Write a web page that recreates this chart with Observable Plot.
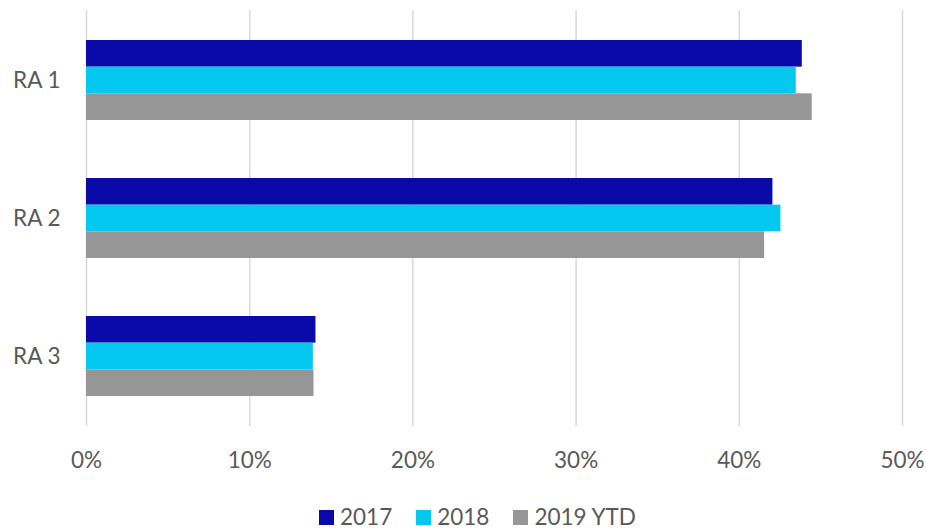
<!DOCTYPE html>
<html>
<head>
<meta charset="utf-8">
<script src="https://cdn.jsdelivr.net/npm/d3@7"></script>
<script src="https://cdn.jsdelivr.net/npm/@observablehq/plot@0.6"></script>
<style>
  html, body { margin: 0; padding: 0; background: #fff; }
  #wrap { position: relative; width: 926px; height: 531px; font-family: Lato, "Open Sans", sans-serif; color: #595959; }
  #legend { position: absolute; left: 319px; top: 503px; display: flex; align-items: center; font-size: 22.5px; line-height: 28px; }
  .item { display: flex; align-items: center; margin-right: 24px; }
  .sw { width: 15px; height: 15px; margin-right: 6px; }
</style>
</head>
<body>
<div id="wrap"><div id="chart"></div><div id="legend"></div></div>
<script>
const categories = ["RA 1", "RA 2", "RA 3"];
const series = ["2017", "2018", "2019 YTD"];
const values2017 = [0.4386, 0.4206, 0.1406];
const values2018 = [0.4349, 0.4255, 0.1390];
const values2019 = [0.4447, 0.4155, 0.1394];
const xTicks = [0, 0.1, 0.2, 0.3, 0.4, 0.5];
const colors = ["#0a0aa8", "#05c8f0", "#969696"];

const seriesValues = [values2017, values2018, values2019];

const W = 926, H = 490, mTop = 10, mBottom = 64, mLeft = 86, mRight = 24;
const pInner = 0.423, pOuter = 0.2115;
const step = (H - mTop - mBottom) / (categories.length - pInner + 2 * pOuter);
const band = step * (1 - pInner);
const bh = band / series.length;

const barMarks = series.map((s, i) =>
  Plot.barX(categories, {
    y: d => d,
    x1: 0,
    x2: (d, j) => seriesValues[i][j],
    fill: colors[i],
    insetTop: i * bh,
    insetBottom: (series.length - 1 - i) * bh
  })
);

const chart = Plot.plot({
  width: W,
  height: H,
  marginTop: mTop,
  marginBottom: mBottom,
  marginLeft: mLeft,
  marginRight: mRight,
  style: { fontFamily: "Lato, 'Open Sans', sans-serif", fontSize: "22.5px", color: "#595959", background: "#fff" },
  x: { domain: [0, 0.5] },
  y: { domain: categories, paddingInner: pInner, paddingOuter: pOuter, align: 0.5 },
  marks: [
    Plot.ruleX(xTicks, { stroke: "#d9d9d9", strokeWidth: 1.5 }),
    ...barMarks,
    Plot.axisX({ ticks: xTicks, tickSize: 0, tickPadding: 26, tickFormat: d3.format(".0%"), label: null }),
    Plot.axisY({ tickSize: 0, tickPadding: 26, label: null })
  ]
});
document.getElementById("chart").appendChild(chart);

const legend = document.getElementById("legend");
series.forEach((s, i) => {
  const it = document.createElement("div");
  it.className = "item";
  const sw = document.createElement("div");
  sw.className = "sw";
  sw.style.background = colors[i];
  const t = document.createElement("span");
  t.textContent = s;
  it.appendChild(sw);
  it.appendChild(t);
  legend.appendChild(it);
});
</script>
</body>
</html>
